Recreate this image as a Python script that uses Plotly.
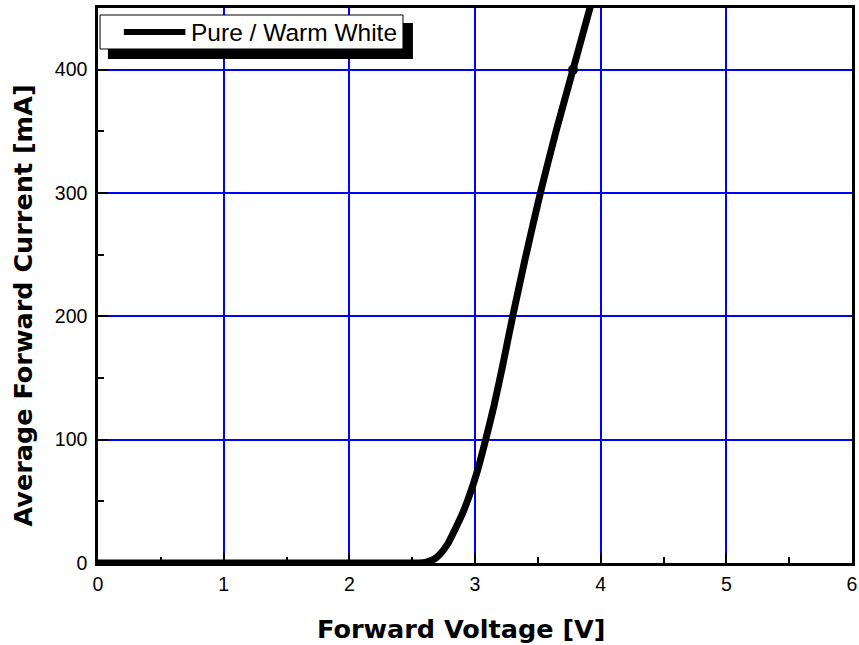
import plotly.graph_objects as go

# ---- data ----
voltage = [0.0, 0.5, 1.0, 1.5, 2.0, 2.4, 2.55, 2.62, 2.68, 2.72, 2.78, 2.84, 2.90,
           2.96, 3.02, 3.08, 3.15, 3.22, 3.30, 3.40, 3.52, 3.65, 3.78, 3.92]
current = [0, 0, 0, 0, 0, 0, 0, 1, 3.5, 7, 15, 27, 40,
           56, 75, 98, 127, 160, 200, 247, 300, 352, 400, 452]
point_v = [3.78]
point_i = [400]
series_name = "Pure / Warm White"
x_title = "Forward Voltage [V]"
y_title = "Average Forward Current [mA]"
x_ticks = [0, 1, 2, 3, 4, 5, 6]
y_ticks = [0, 100, 200, 300, 400]

W, H = 859, 645
L, R, T, B = 98, 2, 8, 82
pw, ph = W - L - R, H - T - B


def px(x):
    return (x - L) / pw


def py(y):
    return (H - B - y) / ph


fig = go.Figure()
fig.add_trace(go.Scatter(x=voltage, y=current, mode="lines",
                         line=dict(color="black", width=7, shape="spline", smoothing=0.6),
                         showlegend=False))
fig.add_trace(go.Scatter(x=point_v, y=point_i, mode="markers",
                         marker=dict(color="black", size=10), showlegend=False))

axis_common = dict(ticks="inside", ticklen=10, tickwidth=2, tickcolor="black",
                   showline=True, linecolor="black", linewidth=2.5, mirror=True,
                   showgrid=True, gridcolor="#0000ff", gridwidth=1.5, zeroline=False,
                   ticklabeloverflow="allow")

fig.update_xaxes(range=[0, 6], tickvals=x_ticks, ticktext=[str(v) for v in x_ticks],
                 minor=dict(dtick=0.5, ticks="inside", ticklen=6, tickwidth=2,
                            tickcolor="black", showgrid=False),
                 tickfont=dict(family="Liberation Sans", size=19.5, color="black"),
                 ticklabelstandoff=2, **axis_common)
fig.update_yaxes(range=[0, 450], tickvals=y_ticks, ticktext=[str(v) for v in y_ticks],
                 minor=dict(dtick=50, ticks="inside", ticklen=6, tickwidth=2,
                            tickcolor="black", showgrid=False),
                 tickfont=dict(family="Liberation Sans", size=19.5, color="black"),
                 ticklabelstandoff=4, **axis_common)

shapes = [
    # legend shadow
    dict(type="rect", xref="paper", yref="paper", x0=px(108), x1=px(415),
         y0=py(59), y1=py(23), fillcolor="black", line=dict(width=0), layer="above"),
    # legend box
    dict(type="rect", xref="paper", yref="paper", x0=px(100), x1=px(405),
         y0=py(49), y1=py(15), fillcolor="white", line=dict(color="black", width=1),
         layer="above"),
    # legend line sample
    dict(type="line", xref="paper", yref="paper", x0=px(124), x1=px(186),
         y0=py(32), y1=py(32), line=dict(color="black", width=6), layer="above"),
]

annotations = [
    dict(text=series_name, xref="paper", yref="paper", x=px(190), y=py(32),
         xanchor="left", yanchor="middle", showarrow=False,
         font=dict(family="Liberation Sans", size=24.5, color="black")),
    dict(text=x_title, xref="paper", yref="paper", x=px(463), y=py(629),
         xanchor="center", yanchor="middle", showarrow=False,
         font=dict(family="DejaVu Sans", size=25.5, color="black", weight="bold")),
    dict(text=y_title, xref="paper", yref="paper", x=px(23), y=py(305),
         xanchor="center", yanchor="middle", showarrow=False, textangle=-90,
         font=dict(family="DejaVu Sans", size=25.5, color="black", weight="bold")),
]

fig.update_layout(width=W, height=H, margin=dict(l=L, r=R, t=T, b=B),
                  paper_bgcolor="white", plot_bgcolor="white",
                  shapes=shapes, annotations=annotations, showlegend=False)

fig.write_html("out.html", config={"displayModeBar": False},
               post_script="document.body.style.margin='0';"
                           "document.body.style.overflow='hidden';")
